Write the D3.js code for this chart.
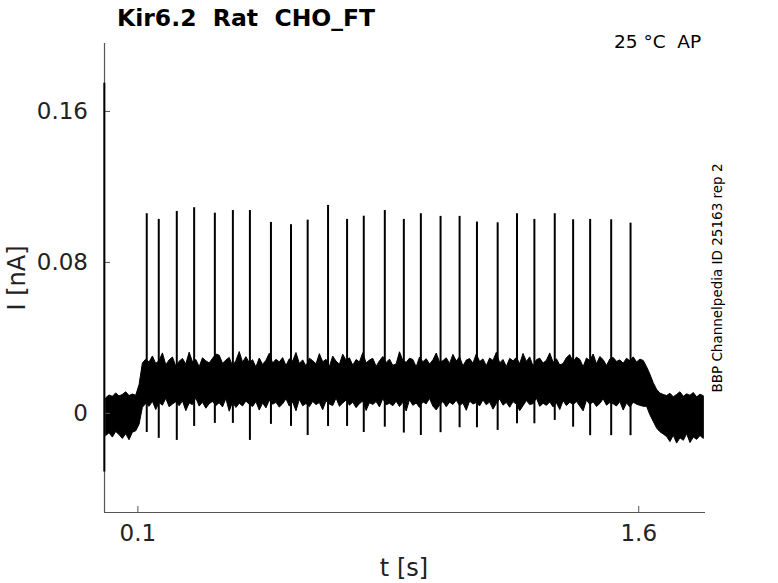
<!DOCTYPE html>
<html>
<head>
<meta charset="utf-8">
<script src="https://cdn.jsdelivr.net/npm/d3@7"></script>
<style>
  body { margin: 0; background: #fff; }
  svg { font-family: "DejaVu Sans", sans-serif; }
</style>
</head>
<body>
<svg id="canvas"></svg>
<script>
// Trace shown as min / max per 10 ms bin (nA)
const binWidth = 0.01;
const bandMax = [
  // 0 - 0.1 s, holding level
  0.0080,0.0095,0.0088,0.0106,0.0090,0.0098,0.0112,0.0092,0.0100,0.0094,
  // step up
  0.0150,0.0265,
  // 0.12 - 1.62 s, test pulse
  0.0285,0.0270,0.0302,0.0262,0.0278,0.0318,0.0255,0.0281,0.0296,0.0248,
  0.0274,0.0288,0.0260,0.0322,0.0271,0.0283,0.0245,0.0292,0.0276,0.0265,
  0.0289,0.0312,0.0306,0.0263,0.0280,0.0294,0.0249,0.0277,0.0325,0.0269,
  0.0298,0.0266,0.0282,0.0243,0.0291,0.0257,0.0279,0.0316,0.0264,0.0284,
  0.0270,0.0293,0.0251,0.0287,0.0275,0.0320,0.0262,0.0281,0.0248,0.0290,
  0.0277,0.0260,0.0314,0.0271,0.0284,0.0246,0.0301,0.0274,0.0258,0.0311,
  0.0279,0.0292,0.0253,0.0283,0.0270,0.0319,0.0265,0.0280,0.0289,0.0247,
  0.0276,0.0299,0.0267,0.0285,0.0252,0.0260,0.0324,0.0278,0.0268,0.0290,
  0.0283,0.0244,0.0296,0.0271,0.0287,0.0259,0.0281,0.0317,0.0269,0.0277,
  0.0292,0.0262,0.0310,0.0275,0.0298,0.0249,0.0280,0.0288,0.0263,0.0313,
  0.0272,0.0286,0.0250,0.0291,0.0278,0.0321,0.0265,0.0283,0.0246,0.0289,
  0.0276,0.0294,0.0261,0.0315,0.0273,0.0297,0.0248,0.0282,0.0290,0.0264,
  0.0279,0.0318,0.0268,0.0287,0.0254,0.0262,0.0293,0.0309,0.0271,0.0296,
  0.0284,0.0245,0.0291,0.0277,0.0312,0.0260,0.0299,0.0282,0.0251,0.0286,
  0.0294,0.0273,0.0281,0.0263,0.0290,0.0276,0.0297,0.0270,0.0285,0.0278,
  // decay
  0.0245,0.0205,0.0160,0.0125,0.0105,0.0098,
  // back to holding
  0.0092,0.0104,0.0086,0.0098,0.0112,0.0088,0.0101,0.0094,0.0108,0.0085,0.0099,0.0091
];
const bandMin = [
  -0.0120,-0.0105,-0.0128,-0.0098,-0.0115,-0.0135,-0.0110,-0.0142,-0.0102,-0.0095,
  -0.0060,0.0030,
  0.0050,0.0035,0.0062,0.0018,0.0055,0.0041,0.0078,0.0033,0.0047,0.0059,
  0.0038,0.0064,0.0012,0.0052,0.0044,0.0080,0.0036,0.0057,0.0025,0.0049,
  0.0061,0.0039,0.0054,0.0032,0.0076,0.0009,0.0058,0.0029,0.0051,0.0037,
  0.0063,0.0045,0.0034,0.0060,0.0015,0.0053,0.0027,0.0067,0.0046,0.0056,
  0.0031,0.0048,0.0075,0.0036,0.0058,0.0011,0.0072,0.0038,0.0050,0.0033,
  0.0061,0.0044,0.0055,0.0017,0.0064,0.0047,0.0039,0.0079,0.0035,0.0052,
  0.0068,0.0041,0.0057,0.0028,0.0049,0.0063,0.0013,0.0054,0.0045,0.0060,
  0.0032,0.0076,0.0043,0.0051,0.0038,0.0062,0.0034,0.0056,0.0010,0.0070,
  0.0040,0.0053,0.0029,0.0059,0.0048,0.0077,0.0036,0.0016,0.0042,0.0061,
  0.0033,0.0057,0.0045,0.0067,0.0039,0.0052,0.0014,0.0063,0.0047,0.0055,
  0.0037,0.0069,0.0043,0.0058,0.0020,0.0050,0.0074,0.0041,0.0056,0.0030,
  0.0060,0.0046,0.0012,0.0038,0.0066,0.0044,0.0049,0.0078,0.0035,0.0051,
  0.0040,0.0058,0.0032,0.0054,0.0018,0.0065,0.0039,0.0057,0.0043,0.0061,
  0.0036,0.0011,0.0068,0.0045,0.0059,0.0034,0.0050,0.0075,0.0041,0.0055,
  0.0048,0.0037,0.0060,0.0015,0.0053,0.0031,0.0057,0.0046,0.0040,0.0035,
  0.0035,-0.0010,-0.0045,-0.0080,-0.0100,-0.0112,
  -0.0125,-0.0152,-0.0118,-0.0160,-0.0132,-0.0145,-0.0110,-0.0157,-0.0128,-0.0140,-0.0120,-0.0135
];

// Action potential spikes: time (s), peak and trough (nA)
const spikeTimes = [0.128,0.164,0.218,0.270,0.332,0.386,0.437,0.500,0.560,0.610,
  0.671,0.728,0.778,0.841,0.898,0.949,1.008,1.065,1.117,1.179,
  1.237,1.289,1.350,1.405,1.456,1.519,1.577];
const spikePeaks = [0.1058,0.1028,0.1070,0.1090,0.1061,0.1075,0.1075,0.1012,0.1000,0.1024,
  0.1102,0.1028,0.1045,0.1075,0.1028,0.1058,0.1044,0.1044,0.1014,0.1010,
  0.1058,0.1028,0.1058,0.1026,0.1028,0.1026,0.1008];
const spikeTroughs = [-0.0101,-0.0132,-0.0143,-0.0069,-0.0053,-0.0053,-0.0143,-0.0058,-0.0069,-0.0117,
  -0.0069,-0.0069,-0.0101,-0.0073,-0.0104,-0.0117,-0.0102,-0.0076,-0.0076,-0.0090,
  -0.0055,-0.0055,-0.0037,-0.0073,-0.0118,-0.0118,-0.0118];

// capacitive artifact at the start of the sweep
const artifactTime = 0.001;
const artifactRange = [-0.031, 0.175];

const xTicks = [0.1, 1.6];
const yTicks = [0, 0.08, 0.16];

const width = 778, height = 583;
const svg = d3.select("#canvas").attr("width", width).attr("height", height);

const x = d3.scaleLinear().domain([0, 1.8]).range([104, 705]);
const y = d3.scaleLinear().domain([-0.0525, 0.196]).range([512, 43]);

// noise band
const area = d3.area()
  .x((d, i) => x((i + 0.5) * binWidth))
  .y0((d, i) => y(bandMin[i]))
  .y1((d) => y(d));
svg.append("path")
  .datum(bandMax)
  .attr("d", area)
  .attr("fill", "#000")
  .attr("stroke", "#000")
  .attr("stroke-width", 1);

// spikes
svg.selectAll("line.spike")
  .data(spikeTimes)
  .enter()
  .append("line")
  .attr("class", "spike")
  .attr("x1", (d) => x(d))
  .attr("x2", (d) => x(d))
  .attr("y1", (d, i) => y(spikeTroughs[i]))
  .attr("y2", (d, i) => y(spikePeaks[i]))
  .attr("stroke", "#000")
  .attr("stroke-width", 2);

// axes
const axisColor = "#555";
const gx = svg.append("g")
  .attr("transform", `translate(0, 512)`)
  .call(d3.axisBottom(x).tickValues(xTicks).tickSize(-6).tickPadding(13).tickFormat(d3.format(".1f")));
const gy = svg.append("g")
  .attr("transform", `translate(104, 0)`)
  .call(d3.axisLeft(y).tickValues(yTicks).tickSize(-6).tickPadding(16).tickFormat((d) => d === 0 ? "0" : d3.format(".2f")(d)));
[gx, gy].forEach((g) => {
  g.select(".domain").attr("stroke", axisColor).attr("stroke-width", 1.2);
  g.selectAll(".tick line").attr("stroke", axisColor);
  g.selectAll(".tick text").attr("fill", "#222").style("font-size", "23px").style("font-family", "DejaVu Sans");
});
gx.select(".domain").attr("d", "M104,0.5H705");
gy.select(".domain").attr("d", "M0.5,43V512");

svg.append("line")
  .attr("x1", x(artifactTime)).attr("x2", x(artifactTime))
  .attr("y1", y(artifactRange[0])).attr("y2", y(artifactRange[1]))
  .attr("stroke", "#000").attr("stroke-width", 2);

// labels
svg.append("text")
  .attr("x", 117).attr("y", 26)
  .style("font-size", "23.5px").style("font-weight", "bold")
  .attr("xml:space", "preserve")
  .text("Kir6.2  Rat  CHO_FT");
svg.append("text")
  .attr("x", 614).attr("y", 48)
  .style("font-size", "18.5px")
  .attr("xml:space", "preserve")
  .text("25 °C  AP");
svg.append("text")
  .attr("transform", "translate(722, 278) rotate(-90)")
  .attr("text-anchor", "middle")
  .style("font-size", "13.5px")
  .text("BBP Channelpedia ID 25163 rep 2");
svg.append("text")
  .attr("x", 404).attr("y", 576)
  .attr("text-anchor", "middle")
  .attr("fill", "#222")
  .style("font-size", "24px")
  .text("t [s]");
svg.append("text")
  .attr("transform", "translate(25, 278) rotate(-90)")
  .attr("text-anchor", "middle")
  .attr("fill", "#222")
  .style("font-size", "24px")
  .text("I [nA]");
</script>
</body>
</html>
